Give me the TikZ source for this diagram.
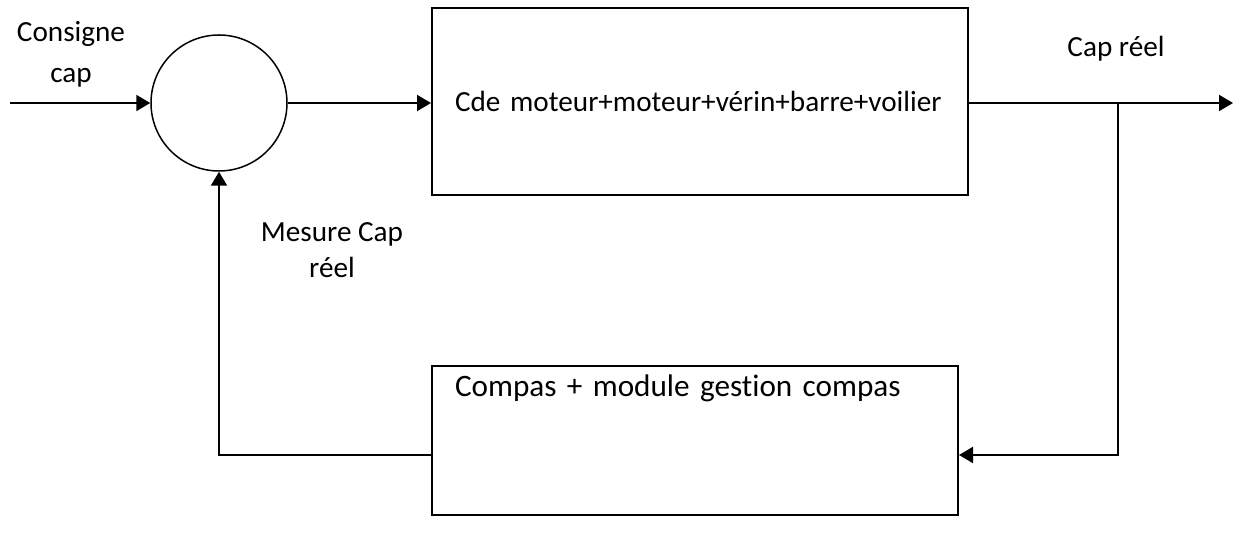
\documentclass[tikz,border=0pt]{standalone}
\usepackage{fontspec}
\setmainfont{Carlito}[Ligatures=NoCommon]
\usetikzlibrary{positioning,arrows.meta}

\begin{document}
\begin{tikzpicture}[x=0.5pt, y=-0.5pt,
    font=\fontsize{14.6}{20}\selectfont,
    sumpoint/.style={circle, draw=black, line width=0.75pt, minimum size=68pt, inner sep=0pt},
    plantbox/.style={rectangle, draw=black, line width=1pt, minimum width=268pt, inner ysep=0pt, text height=52pt, text depth=41.5pt, text width=245pt, inner xsep=11.5pt, align=left},
    sensorbox/.style={rectangle, draw=black, line width=1pt, minimum width=263pt, inner ysep=0pt, text height=15pt, text depth=59.5pt, text width=240pt, inner xsep=11.5pt, align=left, font=\fontsize{15.6}{20}\selectfont},
    sigtext/.style={align=center, inner sep=0pt},
    arrow/.style={-{Triangle[length=7pt, width=8pt]}, line width=1pt},
]
\useasboundingbox (0,0) rectangle (1245,544);

% Comparator
\node (sum) [sumpoint] at (219,103) {};

% Blocks
\node (plant) [plantbox] at (700,101.5) {Cde moteur+moteur+vérin+barre+voilier};
\node (sensor) [sensorbox] at (695,440.5) {Compas + module gestion compas};

% Signal labels
\node (consigne) [sigtext, font=\fontsize{14.6}{20.5}\selectfont] at (71,54) {Consigne\\cap};
\node (capreel) [sigtext, anchor=base] at (1116,57) {Cap réel};
\node (mesure) [sigtext, font=\fontsize{14.6}{18}\selectfont] at (332,250) {Mesure Cap\\réel};

% Free ends
\coordinate (in) at (10,103);
\coordinate (out) at (1233,103);
\coordinate (branch) at (1118,103);
\coordinate (fb) at (1118,455);

% Arrows
\draw[arrow] (in) -- (sum.west);
\draw[arrow] (sum.east) -- (sum.east -| plant.west);
\draw[arrow] (plant.east |- out) -- (out);
\draw[arrow] (branch) -- (fb) -- (fb -| sensor.east);
\draw[arrow] (sensor.west |- fb) -| (sum.south);

\end{tikzpicture}
\end{document}
